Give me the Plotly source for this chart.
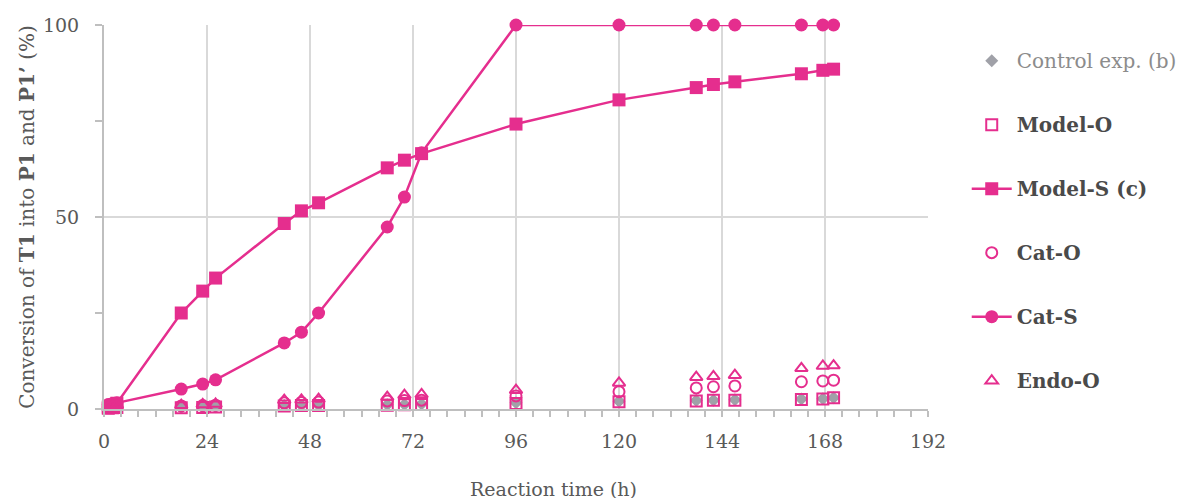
import plotly.graph_objects as go

time_h = [1, 2, 3, 18, 23, 26, 42, 46, 50, 66, 70, 74, 96, 120, 138, 142, 147, 162.5, 167.5, 170]

control_exp = [0.3, 0.4, 0.5, 0.4, 0.5, 0.6, 0.9, 1.0, 1.0, 1.1, 1.2, 1.3, 1.6, 2.0, 2.2, 2.3, 2.4, 2.6, 2.7, 2.9]
model_o = [0.2, 0.3, 0.4, 0.3, 0.4, 0.5, 0.8, 0.9, 0.9, 1.0, 1.1, 1.2, 1.4, 1.9, 2.1, 2.3, 2.3, 2.5, 2.6, 2.9]
model_s = [0.5, 1.0, 1.5, 25.0, 30.7, 34.1, 48.3, 51.6, 53.7, 62.8, 64.8, 66.5, 74.2, 80.5, 83.7, 84.5, 85.2, 87.3, 88.2, 88.5]
cat_o = [0.5, 0.6, 0.7, 0.8, 0.9, 1.0, 1.6, 1.7, 1.8, 2.1, 2.2, 2.3, 3.4, 4.5, 5.5, 5.8, 6.0, 7.1, 7.3, 7.5]
cat_s = [1.2, 1.4, 1.6, 5.2, 6.5, 7.6, 17.2, 20.0, 25.0, 47.4, 55.2, 66.7, 100, 100, 100, 100, 100, 100, 100, 100]
endo_o = [0.6, 0.8, 1.0, 1.0, 1.2, 1.3, 2.3, 2.4, 2.6, 3.1, 3.6, 3.8, 4.9, 6.8, 8.3, 8.5, 8.8, 10.6, 11.2, 11.3]

x_ticks = [0, 24, 48, 72, 96, 120, 144, 168, 192]
y_ticks = [0, 50, 100]

MAG = "#E52E8E"
GRAY_MK = "#A0A1A8"
TXT = "#595959"
FONT = "DejaVu Serif"

fig = go.Figure()

def add(name, y, symbol, mode, size, filled=True, color=MAG, legend_label=None):
    marker = dict(symbol=symbol, size=size, color=color,
                  line=dict(width=0 if filled else 2, color=color))
    fig.add_trace(go.Scatter(
        x=time_h, y=y, mode=mode, name=legend_label or name,
        legendgroup=name,
        marker=marker, line=dict(color=color, width=2.5),
        cliponaxis=False,
    ))

add("control", control_exp, "diamond", "markers", 10, True, GRAY_MK,
    "<span style='color:#8c8c8c'>Control exp. (b)</span>")
add("modelo", model_o, "square-open", "markers", 11, False, MAG, "<b>Model-O</b>")
add("models", model_s, "square", "lines+markers", 13, True, MAG, "<b>Model-S (c)</b>")
add("cato", cat_o, "circle-open", "markers", 11, False, MAG, "<b>Cat-O</b>")
add("cats", cat_s, "circle", "lines+markers", 13, True, MAG, "<b>Cat-S</b>")
add("endoo", endo_o, "triangle-up-open", "markers", 11, False, MAG, "<b>Endo-O</b>")

axis_line = "#BFBFBF"
grid = "#D9D9D9"

fig.update_layout(
    width=1189, height=498,
    margin=dict(l=96, r=269, t=17, b=97),
    paper_bgcolor="white", plot_bgcolor="white",
    font=dict(family=FONT, size=19, color=TXT),
    showlegend=True,
    legend=dict(x=1.047, xanchor="left", y=0.958, yanchor="top",
                tracegroupgap=35, font=dict(size=20, color="#4a4a4a"),
                itemwidth=40, bgcolor="rgba(0,0,0,0)"),
    xaxis=dict(range=[0, 192], tickvals=x_ticks, ticktext=[str(v) for v in x_ticks],
               automargin=False,
               showgrid=True, gridcolor=grid, gridwidth=1.5,
               showline=True, linecolor=axis_line, linewidth=2,
               ticks="outside", ticklen=6, tickcolor=axis_line, tickwidth=2,
               ticklabelstandoff=8,
               minor=dict(dtick=4, ticks="outside", ticklen=6, tickcolor=axis_line,
                          tickwidth=2, showgrid=False),
               zeroline=False),
    xaxis2=dict(range=[0, 192], overlaying="x", side="bottom", matches="x",
                automargin=False,
                tickvals=x_ticks, showticklabels=False, showgrid=False,
                ticks="inside", ticklen=6, tickcolor=axis_line, tickwidth=2,
                minor=dict(dtick=4, ticks="inside", ticklen=6, tickcolor=axis_line,
                           tickwidth=2, showgrid=False),
                zeroline=False, showline=False),
    yaxis=dict(range=[0, 100], tickvals=y_ticks, ticktext=[str(v) for v in y_ticks],
               automargin=False,
               showgrid=True, gridcolor=grid, gridwidth=1.5,
               showline=True, linecolor=axis_line, linewidth=2,
               ticks="outside", ticklen=7, tickcolor=axis_line, tickwidth=2,
               ticklabelstandoff=12,
               minor=dict(dtick=25, ticks="outside", ticklen=7, tickcolor=axis_line,
                          tickwidth=2, showgrid=False),
               zeroline=False,
               title=dict(text="Conversion of <b>T1</b> into <b>P1</b> and <b>P1’</b> (%)",
                          standoff=3, font=dict(size=20, color=TXT))),
    annotations=[dict(text="Reaction time (h)", xref="paper", yref="paper",
                      x=0.545, y=-0.208, xanchor="center", yanchor="middle",
                      showarrow=False, font=dict(size=19, color=TXT))],
)

fig.write_html("out.html")
